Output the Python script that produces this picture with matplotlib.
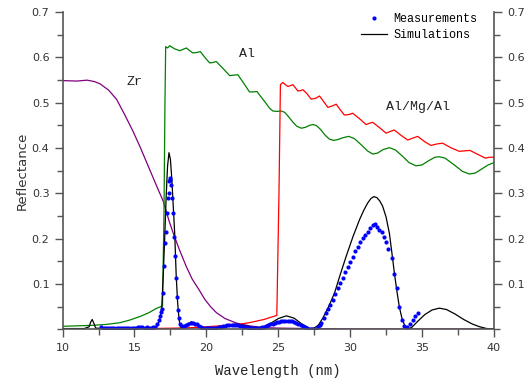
import numpy as np
import matplotlib
matplotlib.use('Agg')
import matplotlib.pyplot as plt
from matplotlib.ticker import MultipleLocator

# Zr mirror (purple)
zr_x = [10, 11, 11.7, 12.2, 12.6, 13.2, 13.75, 14.3, 14.9, 15.4, 16.0, 16.6, 17.0, 17.4, 17.7,
        18.1, 18.6, 19.0, 19.5, 19.9, 20.3, 20.7, 21.3, 22.1, 23.0, 24.0, 25.0, 27, 30, 35, 40]
zr_y = [0.549, 0.548, 0.550, 0.547, 0.542, 0.528, 0.508, 0.475, 0.437, 0.402, 0.357, 0.312,
        0.283, 0.240, 0.212, 0.178, 0.139, 0.112, 0.087, 0.066, 0.050, 0.037, 0.024, 0.014,
        0.008, 0.004, 0.003, 0.002, 0.001, 0.001, 0.001]

# Al mirror (green)
al_x = [10, 11, 12, 13, 14, 14.7, 15.5, 16.0, 16.5, 16.95, 17.05, 17.12, 17.17, 17.3, 17.45,
        17.8, 18.15, 18.38, 18.61, 18.84, 19.07, 19.32, 19.58, 19.9, 20.23, 20.46, 20.69,
        21.15, 21.62, 21.9, 22.19, 22.6, 23.0, 23.25, 23.51, 24.05, 24.4, 24.62, 24.9, 25.2,
        25.45, 25.7, 26.0, 26.3, 26.6, 26.9, 27.15, 27.4, 27.65, 27.95, 28.25, 28.55, 28.85,
        29.15, 29.5, 29.9, 30.3, 30.75, 31.2, 31.57, 31.9, 32.3, 32.73, 33.15, 33.65, 34.1,
        34.58, 35.0, 35.5, 35.9, 36.2, 36.6, 37.2, 37.8, 38.28, 38.7, 39.2, 39.6, 40.0]
al_y = [0.007, 0.008, 0.009, 0.011, 0.015, 0.021, 0.030, 0.037, 0.046, 0.052, 0.250, 0.500,
        0.624, 0.621, 0.626, 0.619, 0.615, 0.618, 0.621, 0.615, 0.610, 0.611, 0.613, 0.600,
        0.588, 0.589, 0.591, 0.576, 0.560, 0.561, 0.562, 0.543, 0.524, 0.524, 0.525, 0.503,
        0.488, 0.482, 0.481, 0.482, 0.479, 0.470, 0.458, 0.448, 0.444, 0.446, 0.450, 0.452,
        0.450, 0.441, 0.429, 0.420, 0.417, 0.419, 0.423, 0.426, 0.421, 0.408, 0.394, 0.387,
        0.389, 0.397, 0.401, 0.396, 0.382, 0.368, 0.361, 0.363, 0.373, 0.380, 0.381, 0.378,
        0.364, 0.349, 0.343, 0.345, 0.355, 0.363, 0.368]

# Al/Mg/Al mirror (red)
amg_x = [12.5, 14, 16, 18, 19, 20, 21, 22, 23, 24, 24.9, 25.05, 25.15, 25.32, 25.5, 25.67,
         25.85, 26.01, 26.2, 26.36, 26.55, 26.71, 27.0, 27.29, 27.6, 27.87, 28.15, 28.45,
         28.75, 29.03, 29.3, 29.6, 29.9, 30.18, 30.65, 31.11, 31.35, 31.57, 32.05, 32.5, 32.8,
         33.07, 33.55, 34.0, 34.35, 34.7, 35.15, 35.62, 36.0, 36.43, 37.0, 37.59, 37.95, 38.33,
         38.9, 39.4, 39.7, 40.0]
amg_y = [0.001, 0.001, 0.002, 0.003, 0.004, 0.006, 0.008, 0.010, 0.015, 0.022, 0.031, 0.300,
         0.540, 0.545, 0.540, 0.536, 0.538, 0.540, 0.533, 0.526, 0.527, 0.529, 0.520, 0.508,
         0.510, 0.515, 0.503, 0.490, 0.493, 0.497, 0.485, 0.473, 0.474, 0.477, 0.465, 0.452,
         0.455, 0.457, 0.445, 0.433, 0.437, 0.440, 0.428, 0.418, 0.422, 0.426, 0.415, 0.406,
         0.409, 0.411, 0.401, 0.393, 0.394, 0.395, 0.386, 0.378, 0.380, 0.380]

# simulated reflectance of the multilayer (black)
sim_x = [10, 11.5, 11.85, 11.95, 12.06, 12.17, 12.3, 13, 14, 15, 16, 16.5, 16.75, 16.9, 17.0,
         17.1, 17.2, 17.3, 17.4, 17.5, 17.6, 17.7, 17.8, 17.9, 18.0, 18.1, 18.2, 18.3, 18.6,
         18.96, 19.3, 19.76, 20.3, 20.9, 21.5, 22.08, 22.7, 23.47, 24.0, 24.5, 25.0, 25.56,
         26.1, 26.6, 27.17, 27.5, 27.8, 28.1, 28.5, 28.91, 29.3, 29.72, 30.2, 30.65, 30.95,
         31.22, 31.45, 31.64, 31.85, 32.05, 32.26, 32.5, 32.73, 32.9, 33.08, 33.25, 33.42,
         33.6, 33.8, 34.0, 34.3, 34.7, 35.2, 35.7, 36.2, 36.7, 37.3, 37.9, 38.5, 39.0, 39.5,
         40.0]
sim_y = [0.002, 0.002, 0.006, 0.016, 0.022, 0.014, 0.003, 0.002, 0.002, 0.002, 0.002, 0.004,
         0.020, 0.050, 0.120, 0.200, 0.290, 0.360, 0.390, 0.375, 0.330, 0.270, 0.210, 0.120,
         0.060, 0.022, 0.006, 0.004, 0.010, 0.017, 0.012, 0.003, 0.002, 0.006, 0.010, 0.012,
         0.008, 0.003, 0.006, 0.014, 0.024, 0.030, 0.025, 0.013, 0.002, 0.003, 0.010, 0.025,
         0.050, 0.080, 0.120, 0.161, 0.205, 0.242, 0.263, 0.279, 0.289, 0.293, 0.291, 0.284,
         0.272, 0.248, 0.212, 0.170, 0.124, 0.085, 0.050, 0.025, 0.008, 0.000, 0.005, 0.018,
         0.033, 0.043, 0.047, 0.044, 0.034, 0.022, 0.012, 0.006, 0.002, 0.001]

# measured reflectance (blue dots)
meas_x = [12.7, 12.85, 13.0, 13.15, 13.3, 13.45, 13.6, 13.75, 13.9, 14.05, 14.2, 14.35, 14.5,
          14.65, 14.8, 14.95, 15.1, 15.25, 15.4, 15.55, 15.7, 15.85, 16.0, 16.15, 16.3, 16.45,
          16.6, 16.7, 16.78, 16.85, 16.92, 16.99, 17.06, 17.12, 17.2, 17.26, 17.33, 17.38,
          17.42, 17.46, 17.5, 17.54, 17.6, 17.68, 17.75, 17.82, 17.92, 17.99, 18.03, 18.1,
          18.2, 18.3, 18.45, 18.6, 18.75, 18.9, 19.05, 19.2, 19.35, 19.5, 19.65, 19.8, 19.95,
          20.1, 20.25, 20.4, 20.55, 20.7, 20.85, 21.0, 21.15, 21.3, 21.45, 21.6, 21.75, 21.9,
          22.05, 22.2, 22.35, 22.5, 22.65, 22.8, 22.95, 23.1, 23.25, 23.4, 23.55, 23.7, 23.85,
          24.0, 24.15, 24.3, 24.45, 24.6, 24.75, 24.9, 25.05, 25.2, 25.35, 25.5, 25.65, 25.8,
          25.95, 26.1, 26.25, 26.4, 26.55, 26.7, 26.85, 27.0, 27.15, 27.3, 27.45, 27.6, 27.75,
          27.9, 27.99, 28.17, 28.33, 28.49, 28.63, 28.79, 28.96, 29.14, 29.3, 29.49, 29.65,
          29.83, 30.02, 30.18, 30.37, 30.53, 30.72, 30.88, 31.04, 31.22, 31.39, 31.57, 31.74,
          31.88, 32.03, 32.19, 32.33, 32.5, 32.66, 32.89, 33.08, 33.24, 33.42, 33.61, 33.77,
          33.96, 34.17, 34.35, 34.54, 34.7]
meas_y = [0.005, 0.004, 0.004, 0.003, 0.003, 0.004, 0.003, 0.003, 0.004, 0.003, 0.003, 0.004,
          0.003, 0.004, 0.003, 0.003, 0.004, 0.005, 0.006, 0.005, 0.004, 0.005, 0.004, 0.004,
          0.005, 0.006, 0.012, 0.020, 0.030, 0.038, 0.045, 0.080, 0.140, 0.190, 0.215, 0.257,
          0.290, 0.300, 0.327, 0.334, 0.330, 0.318, 0.290, 0.257, 0.205, 0.161, 0.113, 0.072,
          0.043, 0.025, 0.012, 0.008, 0.007, 0.010, 0.013, 0.015, 0.015, 0.013, 0.011, 0.008,
          0.006, 0.004, 0.004, 0.004, 0.003, 0.003, 0.004, 0.004, 0.005, 0.006, 0.007, 0.008,
          0.009, 0.010, 0.010, 0.010, 0.010, 0.009, 0.008, 0.007, 0.006, 0.005, 0.004, 0.003,
          0.003, 0.003, 0.003, 0.004, 0.005, 0.006, 0.008, 0.009, 0.011, 0.013, 0.015, 0.016,
          0.017, 0.018, 0.018, 0.019, 0.019, 0.018, 0.018, 0.016, 0.014, 0.012, 0.010, 0.007,
          0.005, 0.003, 0.002, 0.001, 0.001, 0.002, 0.005, 0.010, 0.014, 0.025, 0.036, 0.045,
          0.054, 0.065, 0.078, 0.091, 0.102, 0.114, 0.127, 0.137, 0.148, 0.159, 0.172, 0.181,
          0.192, 0.201, 0.209, 0.216, 0.223, 0.231, 0.233, 0.227, 0.220, 0.215, 0.204, 0.192,
          0.178, 0.157, 0.122, 0.091, 0.050, 0.021, 0.008, 0.006, 0.012, 0.021, 0.030, 0.037]

fig = plt.figure(figsize=(5.26, 3.8), dpi=100)
ax = fig.add_axes([0.119, 0.133, 0.820, 0.835])

lw = 0.9
ax.plot(zr_x, zr_y, color='#800080', lw=lw)
ax.plot(al_x, al_y, color='#008000', lw=lw)
ax.plot(amg_x, amg_y, color='#ff0000', lw=lw)
sim_line, = ax.plot(sim_x, sim_y, color='black', lw=lw)
meas_pts, = ax.plot(meas_x, meas_y, 'o', color='#0000ff', ms=3, mew=0, linestyle='none')

ax.set_xlim(10, 40)
ax.set_ylim(0, 0.7)
ax.xaxis.set_major_locator(MultipleLocator(5))
ax.xaxis.set_minor_locator(MultipleLocator(2.5))
ax.set_yticks([0.1, 0.2, 0.3, 0.4, 0.5, 0.6, 0.7])
ax.yaxis.set_minor_locator(MultipleLocator(0.05))

ax.spines['top'].set_visible(False)
for s in ['left', 'right', 'bottom']:
    ax.spines[s].set_color('#555555')
    ax.spines[s].set_linewidth(1.2)

ax.tick_params(which='both', direction='out', colors='#555555', labelcolor='#333333',
               labelsize=8, right=True, labelright=True, top=False)
ax.tick_params(which='major', length=6, width=1)
ax.tick_params(which='minor', length=4, width=1)

mono = 'Liberation Mono'
ax.text(15.0, 0.545, 'Zr', fontfamily=mono, fontsize=9.5, ha='center', va='center', color='#222222')
ax.text(22.85, 0.608, 'Al', fontfamily=mono, fontsize=9.5, ha='center', va='center', color='#222222')
ax.text(34.75, 0.491, 'Al/Mg/Al', fontfamily=mono, fontsize=9.5, ha='center', va='center', color='#222222')

ax.set_xlabel('Wavelength (nm)', fontfamily=mono, fontsize=10, color='#222222', labelpad=8)
ax.set_ylabel('Reflectance', fontsize=9.5, color='#333333', labelpad=2)

ax.legend([meas_pts, sim_line], ['Measurements', 'Simulations'], loc='upper right',
          bbox_to_anchor=(0.975, 1.015), frameon=False, prop={'family': mono, 'size': 8.5},
          handlelength=2.2, handletextpad=0.5, borderpad=0, labelspacing=0.3)

fig.savefig('out.png', dpi=100)
